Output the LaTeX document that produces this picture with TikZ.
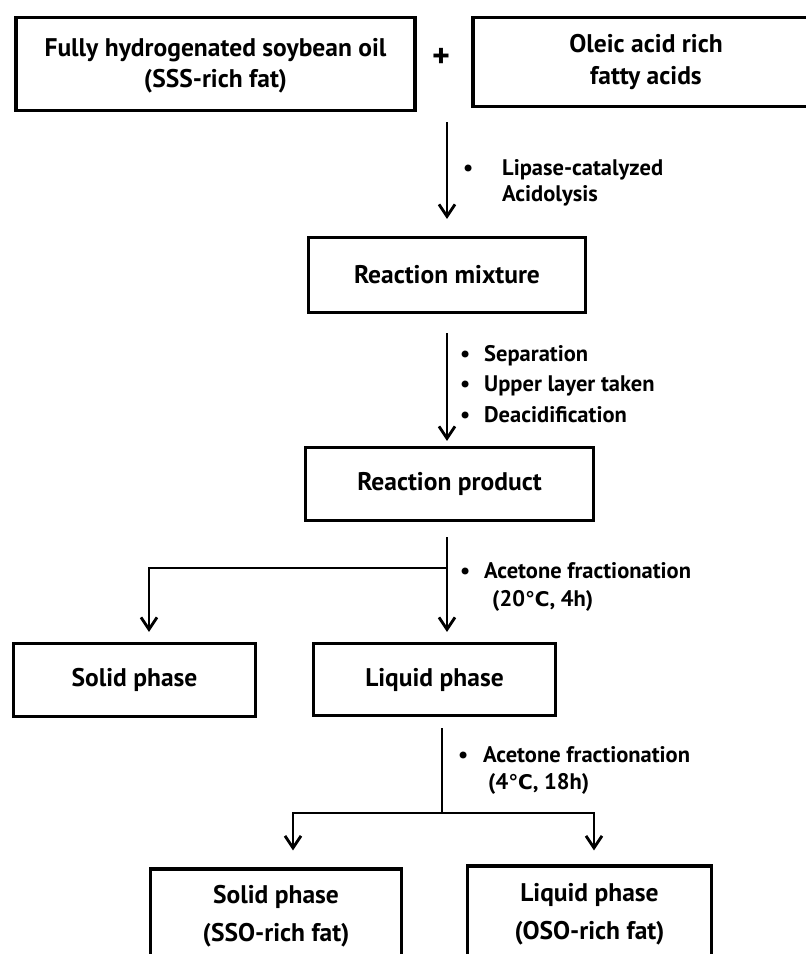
\documentclass[tikz,border=0pt]{standalone}
\usepackage{fontspec}
\setmainfont{PT Sans}
\newfontfamily\symfont[Scale=0.9]{DejaVu Sans}
\usetikzlibrary{arrows.meta}

\newcommand{\boxfont}{\bfseries\fontsize{25.5}{31}\selectfont}
\newcommand{\notefont}{\bfseries\fontsize{22.5}{30}\selectfont}
\newcommand{\degc}{{\symfont\bfseries ℃}}

\tikzset{
	stage/.style={draw, black, line width=3.2pt, inner sep=0pt, align=center, font=\boxfont},
	flow/.style={line width=2.8pt, -{Straight Barb[length=12pt,width=16pt,line width=2.8pt]}},
	link/.style={line width=2.8pt},
	note/.style={anchor=base west, inner sep=0pt, font=\notefont},
}

\begin{document}
\begin{tikzpicture}[x=1pt,y=-1pt]
			\useasboundingbox (0,0) rectangle (806,954);
			
			% starting materials
			\node[stage, minimum width=399pt, minimum height=93pt] (fhso) at (215.5,64) {\rule{0pt}{22pt}Fully hydrogenated soybean oil\\(SSS-rich fat)};
			\node[font=\bfseries\fontsize{34}{34}\selectfont] (plus) at (441,58) {+};
			\node[stage, minimum width=346pt, minimum height=89pt] (oleic) at (646,62) {Oleic acid rich\\[1pt]fatty acids};
			
			{
				\coordinate (mixin) at (447,122);
				\node[stage, minimum width=277pt, minimum height=75pt] (mix) at (447,275) {Reaction mixture};
				\draw[flow, shorten >=17pt] (mixin) -- (mix.north);
				\node[note] (lab1) at (463,175) {\begin{tabular}[t]{@{}p{39pt}@{}l@{}}\textbullet & Lipase-catalyzed\\[-4pt] & Acidolysis\end{tabular}};
			}
			
			{
				\node[stage, minimum width=288pt, minimum height=73pt] (prod) at (449.5,484) {Reaction product};
				\draw[flow, shorten <=19pt, shorten >=5pt] (mix.south) -- (mix.south |- prod.north);
				\node[note] (lab2) at (460,361) {\begin{tabular}[t]{@{}p{24pt}@{}l@{}}\textbullet & Separation\\[0.5pt] \textbullet & Upper layer taken\\[0.5pt] \textbullet & Deacidification\end{tabular}};
			}
			
			% first fractionation
			{
				\node[stage, minimum width=242pt, minimum height=73pt] (solid) at (134.5,680) {Solid phase};
				\node[stage, minimum width=242pt, minimum height=72pt] (liquid) at (434.5,679.5) {Liquid phase};
				\coordinate (fork1) at (447,568);
				\coordinate (fork1l) at (149,568);
				\draw[flow, shorten <=15pt, shorten >=10pt] (fork1 |- prod.south) -- (fork1 |- liquid.north);
				\draw[flow, shorten >=10pt] (fork1) -- (fork1l) -- (fork1l |- solid.north);
				\node[note] (lab3) at (460,578) {\begin{tabular}[t]{@{}p{24pt}@{}l@{}}\textbullet & Acetone fractionation\\[-2pt] & \hspace{8pt}(20\degc, 4h)\end{tabular}};
			}
			
			% second fractionation
			{
				\node[stage, minimum width=251pt, minimum height=94pt] (sso) at (276,916) {Solid phase\\[7pt](SSO-rich fat)};
				\node[stage, minimum width=244pt, minimum height=96pt] (oso) at (589.5,914) {Liquid phase\\[7pt](OSO-rich fat)};
				\coordinate (fork2) at (442,813);
				\coordinate (fork2l) at (293,813);
				\coordinate (fork2r) at (594,813);
				\draw[link, shorten <=11pt] (fork2 |- liquid.south) -- (fork2);
				\draw[flow, shorten >=17pt] (fork2) -- (fork2l) -- (fork2l |- sso.north);
				\draw[flow, shorten >=14pt] (fork2) -- (fork2r) -- (fork2r |- oso.north);
				\node[note] (lab4) at (458,762) {\begin{tabular}[t]{@{}p{25pt}@{}l@{}}\textbullet & Acetone fractionation\\[-3pt] & \hspace{5pt}(4\degc, 18h)\end{tabular}};
			}
		\end{tikzpicture}
\end{document}
